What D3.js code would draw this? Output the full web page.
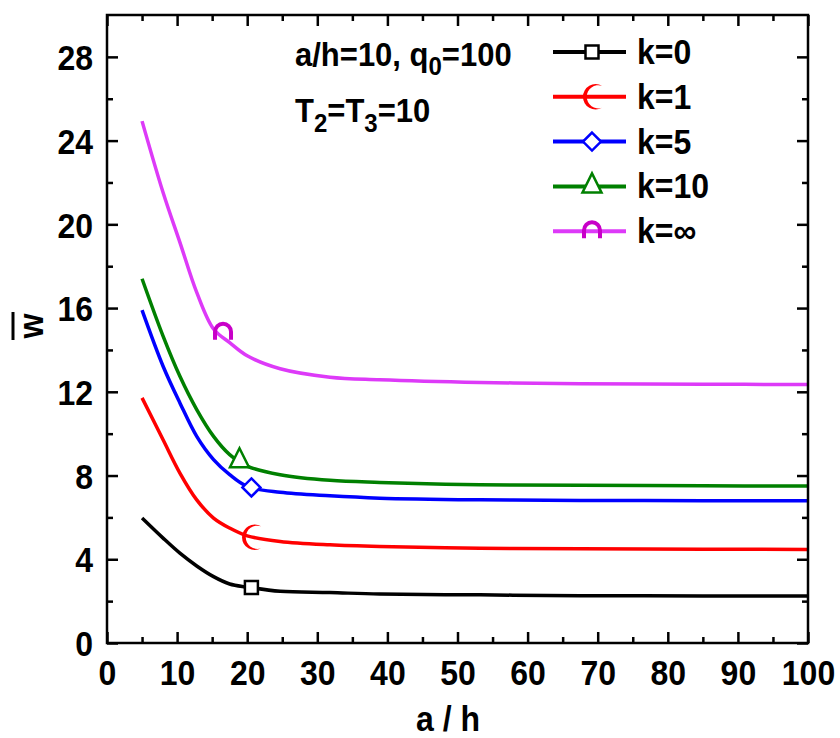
<!DOCTYPE html>
<html>
<head>
<meta charset="utf-8">
<script src="https://cdn.jsdelivr.net/npm/d3@7"></script>
<style>
  body { margin: 0; background: #fff; }
  svg text { font-family: "Liberation Sans", Arial, sans-serif; font-weight: bold; fill: #000; }
</style>
</head>
<body>
<svg id="chart" width="840" height="738"></svg>
<script>
// values
const aH = [5, 8, 10.4, 12.8, 15.2, 17.5, 20, 24.7, 31.8, 38.9, 53.2, 67.5, 85, 100]
const wK0   = [5.97, 5.01, 4.29, 3.68, 3.17, 2.82, 2.67, 2.47, 2.41, 2.34, 2.30, 2.26, 2.25, 2.24]
const wK1   = [11.71, 9.71, 8.12, 6.84, 5.97, 5.49, 5.12, 4.85, 4.69, 4.61, 4.53, 4.50, 4.48, 4.47]
const wK5   = [15.9, 13.22, 11.47, 9.87, 8.76, 8.04, 7.48, 7.2, 7.03, 6.92, 6.84, 6.81, 6.8, 6.79]
const wK10  = [17.4, 14.66, 12.74, 11.15, 9.87, 9.0, 8.45, 8.04, 7.77, 7.67, 7.56, 7.53, 7.51, 7.5]
const wKInf = [24.93, 21.52, 19.14, 16.75, 15.0, 14.35, 13.72, 13.1, 12.7, 12.58, 12.45, 12.39, 12.36, 12.35]
const seriesNames = ["k=0", "k=1", "k=5", "k=10", "k=\u221E"]
const markerX = [20.6, 20.55, 20.6, 18.9, 16.55]
const markerY = [2.65, 5.05, 7.43, 8.68, 14.82]
const xTicks = [0, 10, 20, 30, 40, 50, 60, 70, 80, 90, 100]
const yTicks = [0, 4, 8, 12, 16, 20, 24, 28]

const seriesVals = [wK0, wK1, wK5, wK10, wKInf]
const lineColors = ["#000000", "#ff0000", "#0000ff", "#008000", "#dd3af8"]
const markColors = ["#000000", "#ff0000", "#0000ff", "#008000", "#c800c8"]
const markTypes  = ["square", "crescent", "diamond", "triangle", "arch"]

const svg = d3.select("#chart")
const pLeft = 107, pRight = 808, pTop = 15, pBottom = 643
const fs = 32, stretch = 1.1   // reference glyphs are a little taller than Arial

const x = d3.scaleLinear().domain([0, 100]).range([pLeft, pRight])
const y = d3.scaleLinear().domain([0, 30]).range([pBottom, pTop])

// marker shapes, centred on 0,0
function markerPath(type){
    switch(type){
        case "square":   return "M-6.5,-6.5H6.5V6.5H-6.5Z"
        case "diamond":  return "M0,-9L9,0L0,9L-9,0Z"
        case "triangle": return "M0,-13L9.5,6H-9.5Z"
        case "crescent": return "M10,-11A12.7,12.7 0 1,0 10,11A11.6,11.6 0 1,1 10,-11Z"
        case "arch":     return "M-10,7V-1A10,10 0 0,1 10,-1V7H6V-1A6,6 0 0,0 -6,-1V7Z"
    }
}
function drawMarker(g, type, color, cx, cy){
    const filled = (type === "crescent" || type === "arch")
    g.append("path")
        .attr("d", markerPath(type))
        .attr("transform", `translate(${cx},${cy})`)
        .attr("fill", filled ? color : "#fff")
        .attr("stroke", filled ? "none" : color)
        .attr("stroke-width", 2.5)
}

// plain text, slightly stretched vertically
function addText(g, tx, ty, size){
    return g.append("text")
        .attr("transform", `translate(${tx},${ty}) scale(1,${stretch})`)
        .attr("font-size", size)
}

// curves
const line = d3.line()
    .x((d, i) => x(aH[i]))
    .y(d => y(d))
    .curve(d3.curveCatmullRom.alpha(0.5))

const plot = svg.append("g")
seriesVals.forEach((vals, i) => {
    plot.append("path")
        .attr("d", line(vals))
        .attr("fill", "none")
        .attr("stroke", lineColors[i])
        .attr("stroke-width", 3.5)
})
seriesVals.forEach((vals, i) => {
    drawMarker(plot, markTypes[i], markColors[i], x(markerX[i]), y(markerY[i]))
})

// axes, ticks point inward
function styleAxis(g){
    g.select(".domain").remove()
    g.selectAll(".tick line").attr("stroke", "#000").attr("stroke-width", 2.5)
}

const xAx = svg.append("g").attr("transform", `translate(0,${pBottom})`)
    .call(d3.axisBottom(x).tickValues(xTicks).tickSize(-11).tickFormat(d3.format("d")))
styleAxis(xAx)
xAx.selectAll(".tick text")
    .attr("y", 0).attr("dy", null)
    .attr("transform", `translate(0,42) scale(1,${stretch})`)
    .attr("font-size", fs)
xAx.append("g").call(d3.axisBottom(x).tickValues(d3.range(5, 100, 10)).tickSize(-6).tickFormat(""))
    .call(styleAxis)

const xTop = svg.append("g").attr("transform", `translate(0,${pTop})`)
    .call(d3.axisTop(x).tickValues(xTicks).tickSize(-11).tickFormat(""))
styleAxis(xTop)
xTop.append("g").call(d3.axisTop(x).tickValues(d3.range(5, 100, 10)).tickSize(-6).tickFormat(""))
    .call(styleAxis)

const yAx = svg.append("g").attr("transform", `translate(${pLeft},0)`)
    .call(d3.axisLeft(y).tickValues(yTicks).tickSize(-11).tickFormat(d3.format("d")))
styleAxis(yAx)
yAx.selectAll(".tick text")
    .attr("x", 0).attr("dy", "0.36em")
    .attr("transform", `translate(-14,0) scale(1,${stretch})`)
    .attr("font-size", fs)
yAx.append("g").call(d3.axisLeft(y).tickValues(d3.range(2, 30, 4)).tickSize(-6).tickFormat(""))
    .call(styleAxis)

const yRight = svg.append("g").attr("transform", `translate(${pRight},0)`)
    .call(d3.axisRight(y).tickValues(yTicks).tickSize(-11).tickFormat(""))
styleAxis(yRight)
yRight.append("g").call(d3.axisRight(y).tickValues(d3.range(2, 30, 4)).tickSize(-6).tickFormat(""))
    .call(styleAxis)

// frame
svg.append("rect")
    .attr("x", pLeft).attr("y", pTop)
    .attr("width", pRight - pLeft).attr("height", pBottom - pTop)
    .attr("fill", "none").attr("stroke", "#000").attr("stroke-width", 2.5)

// axis titles
addText(svg, 448, 731, fs)
    .attr("text-anchor", "middle")
    .text("a / h")

svg.append("text")
    .attr("transform", `translate(43,326) rotate(-90) scale(1,${stretch})`)
    .attr("text-anchor", "middle")
    .attr("font-size", fs)
    .text("w")
svg.append("line")
    .attr("x1", 13).attr("x2", 13)
    .attr("y1", 312).attr("y2", 340)
    .attr("stroke", "#000").attr("stroke-width", 3)

// annotations
const ann1 = addText(svg, 295, 66, 31)
ann1.append("tspan").text("a/h=10, q")
ann1.append("tspan").attr("font-size", 24).attr("dy", 8).text("0")
ann1.append("tspan").attr("dy", -8).text("=100")

const ann2 = addText(svg, 295, 122, 31)
ann2.append("tspan").text("T")
ann2.append("tspan").attr("font-size", 24).attr("dy", 9).text("2")
ann2.append("tspan").attr("dy", -9).text("=T")
ann2.append("tspan").attr("font-size", 24).attr("dy", 9).text("3")
ann2.append("tspan").attr("dy", -9).text("=10")

// legend
const legend = svg.append("g")
seriesNames.forEach((name, i) => {
    const ly = 52 + i * 44.8
    legend.append("line")
        .attr("x1", 553).attr("x2", 626)
        .attr("y1", ly).attr("y2", ly)
        .attr("stroke", lineColors[i]).attr("stroke-width", 4)
    drawMarker(legend, markTypes[i], markColors[i], 592, ly)
    addText(legend, 637, ly + 12, fs).text(name)
})
</script>
</body>
</html>
